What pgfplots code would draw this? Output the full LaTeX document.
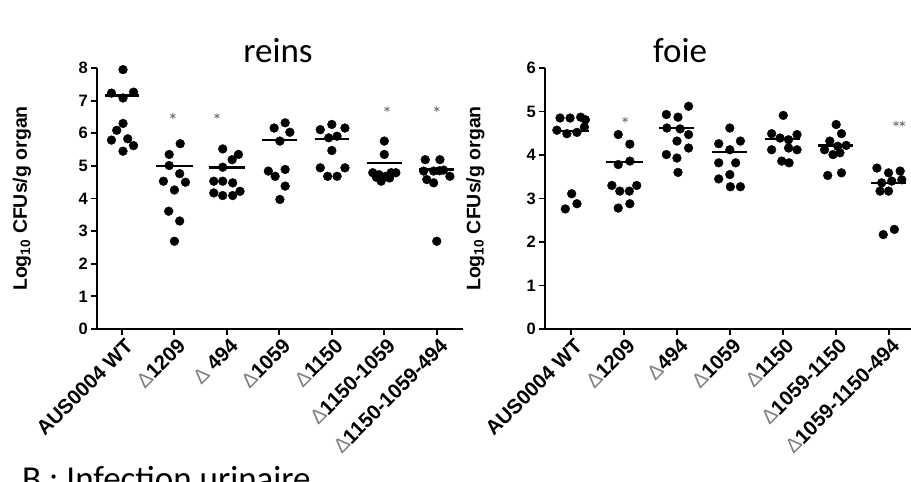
\documentclass[border=0pt]{standalone}
\usepackage{pgfplots}
\pgfplotsset{compat=1.18}
\usepackage{fontspec}
\setmainfont{Liberation Sans}
\newfontfamily\calibri{Carlito}
\newcommand{\D}{{\mdseries\color{black!50}Δ}}
\pgfplotsset{
  gp/.style={
    scale only axis,
    axis x line*=bottom, axis y line*=left,
    axis line style={line width=2.2pt, -},
    tick align=outside,
    major tick length=6pt,
    every tick/.style={line width=1.9pt, black},
    ymin=0,
    xtick={0,1,2,3,4,5,6},
    /pgf/number format/assume math mode=true,
    yticklabel style={font=\fontsize{16.5}{16.5}\selectfont\bfseries, inner sep=0pt, xshift=-3pt},
    xticklabel style={font=\fontsize{20.5}{20.5}\selectfont\bfseries, rotate=45, anchor=north east, inner sep=0pt, yshift=-3pt},
    every axis y label/.style={rotate=90, anchor=center, font=\fontsize{19.5}{19.5}\selectfont\bfseries},
    ylabel={Log\textsubscript{10} CFUs/g organ},
    dot/.style={only marks, mark=*, mark size=4.4pt, black},
    mline/.style={black, line width=2.5pt, no marks},
    star/.style={only marks, mark=asterisk, mark size=3pt, black!55, mark options={line width=0.8pt}},
  }
}
\begin{document}
\begin{tikzpicture}
\path[use as bounding box] (0pt,0pt) rectangle (911pt,482pt);
% ---------- reins ----------
\begin{axis}[gp,
  at={(97pt,153pt)}, anchor=south west, width=366pt, height=261pt,
  xmin=-0.476, xmax=6.5, ymax=8, ytick={0,1,...,8},
  xticklabels={AUS0004 WT,\D1209,\D{} 494,\D1059,\D1150,\D1150-1059,\D1150-1059-494},
  every axis y label/.append style={at={(axis description cs:-0.205,0.5)}},
]
\addplot[dot] coordinates {
(0.02,7.95) (-0.2,7.23) (0.02,7.08) (0.22,7.26) (0.02,6.30) (-0.1,6.09) (-0.2,5.79) (0.11,5.83) (0.22,5.62) (0.02,5.45)
(0.9,5.35) (1.11,5.68) (0.9,5.01) (1.1,4.76) (0.79,4.53) (1.21,4.50) (1.0,4.26) (0.89,3.61) (1.1,3.31) (1.0,2.69)
(1.92,5.52) (2.1,5.19) (2.22,5.35) (1.92,4.96) (1.75,4.53) (1.92,4.53) (2.11,4.48) (1.75,4.17) (1.92,4.09) (2.11,4.09) (2.25,4.22)
(2.9,6.16) (3.11,6.32) (3.2,6.03) (3.01,5.76) (2.79,4.84) (3.11,4.89) (2.92,4.68) (3.11,4.38) (3.01,3.97)
(3.78,6.11) (4.0,6.27) (4.25,6.16) (3.94,5.86) (4.1,5.91) (4.0,5.47) (3.78,4.94) (4.25,4.94) (3.92,4.68) (4.1,4.68)
(5.0,5.76) (5.0,5.35) (4.78,4.79) (4.9,4.73) (5.03,4.68) (5.13,4.79) (5.22,4.79) (4.94,4.53) (4.85,4.65) (5.1,4.63)
(5.78,5.19) (6.06,5.19) (5.75,4.84) (5.94,4.84) (6.13,4.87) (6.25,4.68) (5.81,4.58) (5.94,4.48) (6.0,2.69) (6.05,4.85)
};
\addplot[mline] coordinates {(-0.33,7.15) (0.33,7.15)};
\addplot[mline] coordinates {(0.65,4.99) (1.35,4.99)};
\addplot[mline] coordinates {(1.65,4.95) (2.35,4.95)};
\addplot[mline] coordinates {(2.67,5.80) (3.33,5.80)};
\addplot[mline] coordinates {(3.67,5.83) (4.33,5.83)};
\addplot[mline] coordinates {(4.67,5.09) (5.33,5.09)};
\addplot[mline] coordinates {(5.67,4.89) (6.33,4.89)};
\addplot[star] coordinates {(0.97,6.53) (1.81,6.53) (5.05,6.74) (6.0,6.74)};
\end{axis}
% ---------- foie ----------
\begin{axis}[gp,
  at={(545pt,153pt)}, anchor=south west, width=370pt, height=261pt,
  xmin=-0.494, xmax=6.5, ymax=6, ytick={0,1,...,6},
  xticklabels={AUS0004 WT,\D1209,\D494,\D1059,\D1150,\D1059-1150,\D1059-1150-494},
  every axis y label/.append style={at={(axis description cs:-0.188,0.5)}},
]
\addplot[dot] coordinates {
(-0.21,4.85) (-0.02,4.85) (0.18,4.87) (0.27,4.81) (-0.27,4.57) (-0.08,4.49) (0.11,4.52) (0.25,4.64) (0.01,3.11) (-0.11,2.76) (0.11,2.88)
(0.89,4.47) (1.11,4.25) (0.89,3.78) (1.11,3.86) (0.77,3.30) (1.24,3.30) (0.92,3.17) (1.1,3.17) (0.89,2.78) (1.11,2.88)
(1.8,4.93) (2.02,4.87) (2.22,5.12) (1.81,4.62) (2.06,4.60) (2.22,4.47) (2.0,4.32) (1.8,4.01) (2.22,4.16) (2.0,3.93) (2.02,3.60)
(3.0,4.62) (2.79,4.26) (3.2,4.32) (3.0,4.12) (2.79,3.82) (3.11,3.82) (3.0,3.55) (2.79,3.45) (3.01,3.27) (3.2,3.27)
(4.01,4.91) (3.79,4.49) (4.27,4.47) (3.95,4.39) (4.11,4.35) (3.79,4.12) (4.27,4.12) (4.11,4.16) (3.98,3.86) (4.12,3.82)
(5.01,4.70) (5.11,4.49) (4.89,4.32) (5.04,4.20) (5.2,4.22) (4.79,4.12) (4.95,4.01) (5.08,4.05) (4.85,3.53) (5.11,3.59)
(5.78,3.70) (6.0,3.59) (6.22,3.63) (5.87,3.36) (6.06,3.40) (6.25,3.43) (5.84,3.17) (6.0,3.17) (5.9,2.17) (6.11,2.29)
};
\addplot[mline] coordinates {(-0.33,4.55) (0.33,4.55)};
\addplot[mline] coordinates {(0.65,3.84) (1.35,3.84)};
\addplot[mline] coordinates {(1.67,4.62) (2.33,4.62)};
\addplot[mline] coordinates {(2.67,4.07) (3.33,4.07)};
\addplot[mline] coordinates {(3.67,4.37) (4.33,4.37)};
\addplot[mline] coordinates {(4.67,4.22) (5.33,4.22)};
\addplot[mline] coordinates {(5.67,3.36) (6.33,3.36)};
\addplot[star] coordinates {(1.02,4.81) (6.14,4.72) (6.26,4.72)};
\end{axis}
% titles
\node[anchor=base, font=\calibri\fontsize{35}{35}\selectfont] at (278pt,419pt) {reins};
\node[anchor=base, font=\calibri\fontsize{35}{35}\selectfont] at (680pt,419pt) {foie};
\node[anchor=base west, inner sep=0pt, font=\calibri\fontsize{35}{35}\selectfont] at (22pt,-9pt) {B : Infection urinaire};
\end{tikzpicture}
\end{document}
